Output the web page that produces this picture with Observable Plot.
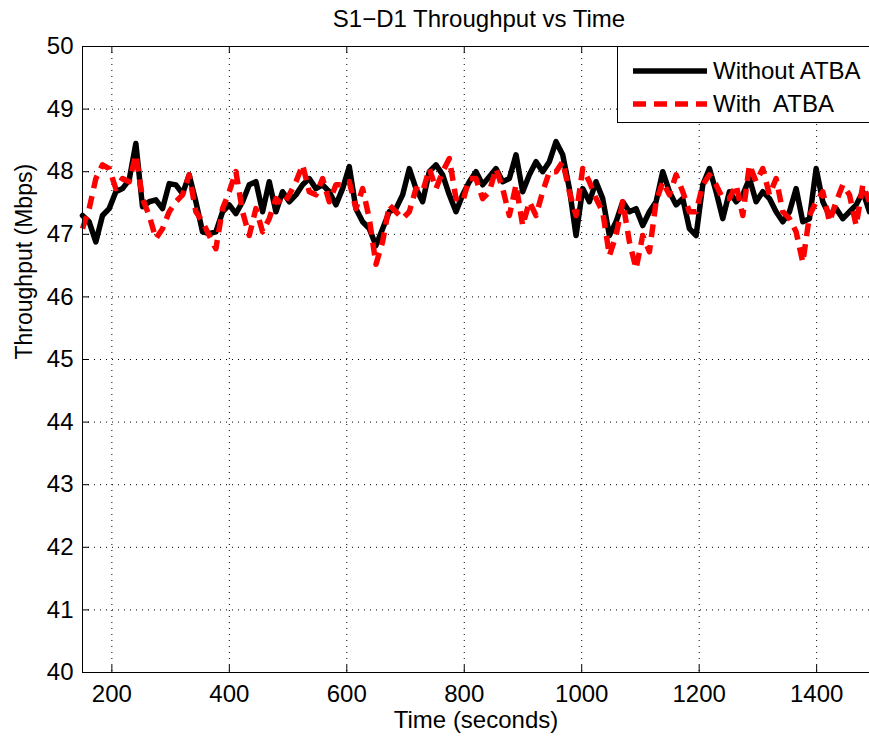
<!DOCTYPE html>
<html>
<head>
<meta charset="utf-8">
<script src="https://cdn.jsdelivr.net/npm/d3@7"></script>
<script src="https://cdn.jsdelivr.net/npm/@observablehq/plot@0.6"></script>
<style>
  body { margin: 0; background: #fff; }
  #wrap { position: relative; width: 869px; height: 740px; overflow: hidden; font-family: "Liberation Sans", Arial, Helvetica, sans-serif; }
  #legend { position: absolute; left: 617px; top: 46px; width: 270px; height: 77px; border: 1px solid #000; background: #fff; box-sizing: border-box; }
  .row { position: absolute; left: 15px; height: 30px; display: flex; align-items: center; font-size: 24px; white-space: pre; }
  .row svg { margin-right: 6px; }
</style>
</head>
<body>
<div id="wrap"></div>
<script>
// Sampling of the time axis (seconds)
const tStart = 150;
const tEnd = 1490;

// Without ATBA (Mbps)
const withoutATBA = [
  47.30,47.20,46.88,47.30,47.41,47.68,47.73,47.87,48.45,47.44,47.52,47.55,47.41,47.81,47.79,47.65,47.95,47.52,47.04,47.01,
  47.04,47.36,47.47,47.33,47.52,47.79,47.84,47.36,47.84,47.36,47.68,47.52,47.63,47.79,47.89,47.73,47.79,47.68,47.47,
  47.73,48.08,47.41,47.20,47.09,46.82,47.09,47.36,47.41,47.63,48.05,47.73,47.52,48.00,48.11,47.95,47.63,47.36,47.63,47.84,
  48.00,47.79,47.92,48.05,47.84,47.89,48.27,47.68,47.95,48.16,48.00,48.16,48.48,48.27,47.73,46.98,47.73,47.52,47.84,
  47.57,46.98,47.20,47.52,47.36,47.41,47.14,47.36,47.52,48.00,47.68,47.47,47.57,47.09,46.98,47.79,48.05,47.68,47.25,47.68,
  47.52,47.63,47.89,47.52,47.68,47.57,47.36,47.20,47.36,47.73,47.20,47.25,48.05,47.52,47.30,47.41,47.25,47.36,47.47,47.68,47.36
];

// With ATBA (Mbps)
const withATBA = [
  47.09,47.41,47.89,48.11,48.05,47.73,47.89,47.84,48.27,47.57,47.30,46.93,47.09,47.36,47.52,47.63,47.95,47.36,47.20,46.98,
  46.77,47.41,47.68,48.00,47.36,46.98,47.41,47.04,47.25,47.57,47.47,47.63,47.84,48.11,47.68,47.63,47.89,47.52,47.79,
  47.79,47.84,47.41,47.73,47.25,46.52,46.88,47.47,47.36,47.25,47.36,47.73,47.68,48.05,47.73,48.00,48.21,47.57,47.52,47.89,
  47.89,47.57,47.68,48.05,47.73,47.30,47.79,47.14,47.52,47.30,47.68,48.00,48.00,48.16,47.68,47.30,48.05,47.84,47.57,
  47.36,46.66,46.98,47.52,46.88,46.45,46.98,46.72,47.52,47.84,47.63,47.95,47.68,47.36,47.36,47.79,47.95,47.79,47.57,47.57,
  47.79,47.30,48.11,47.84,48.05,47.63,47.89,47.36,47.25,47.04,46.55,47.30,47.52,47.68,47.20,47.52,47.79,47.63,47.14,47.79,47.52
];

const xTicks = [200, 400, 600, 800, 1000, 1200, 1400];
const yTicks = [40, 41, 42, 43, 44, 45, 46, 47, 48, 49, 50];

const titleText = "S1\u2212D1 Throughput vs Time";
const xLabel = "Time (seconds)";
const yLabel = "Throughput (Mbps)";
const seriesNames = ["Without ATBA", "With  ATBA"];

const n = withoutATBA.length;
const step = (tEnd - tStart) / (n - 1);
const toRows = (vals) => vals.map((v, i) => ({t: tStart + i * step, v}));
const blackRows = toRows(withoutATBA);
const redRows = toRows(withATBA);

const font = '"Liberation Sans", Arial, Helvetica, sans-serif';
const lineW = 5.5;
const dash = "13,8";

const chart = Plot.plot({
  width: 869,
  height: 740,
  marginLeft: 82,
  marginRight: 0,
  marginTop: 46,
  marginBottom: 68,
  style: {fontFamily: font, fontSize: "24px", color: "black", background: "white", overflow: "visible"},
  x: {domain: [tStart, tEnd], ticks: xTicks, tickSize: 0, tickPadding: 12, tickFormat: d => String(d), label: null},
  y: {domain: [40, 50], ticks: yTicks, tickSize: 0, tickPadding: 9, tickFormat: d => String(d), label: null},
  marks: [
    Plot.ruleX(xTicks, {stroke: "black", strokeWidth: 1, strokeDasharray: "1,5"}),
    Plot.ruleY(yTicks.slice(1, -1), {stroke: "black", strokeWidth: 1, strokeDasharray: "1,5"}),
    Plot.ruleX(xTicks, {y1: 40, y2: 40 + 7 / 62.6, stroke: "black"}),
    Plot.ruleX(xTicks, {y1: 50 - 7 / 62.6, y2: 50, stroke: "black"}),
    Plot.ruleY(yTicks, {x1: tStart, x2: tStart + 7 / 0.5875, stroke: "black"}),
    Plot.line(blackRows, {x: "t", y: "v", stroke: "black", strokeWidth: lineW, curve: "linear"}),
    Plot.line(redRows, {x: "t", y: "v", stroke: "#ff0000", strokeWidth: lineW, strokeDasharray: dash, strokeLinecap: "butt", curve: "linear"}),
    Plot.frame({stroke: "black", strokeWidth: 1}),
    Plot.text([titleText], {text: d => d, frameAnchor: "top", lineAnchor: "middle", dy: -27, dx: 3, fontSize: 24}),
    Plot.text([xLabel], {text: d => d, frameAnchor: "bottom", lineAnchor: "middle", dy: 48, fontSize: 24}),
    Plot.text([yLabel], {text: d => d, frameAnchor: "left", lineAnchor: "middle", dx: -58, rotate: -90, fontSize: 23})
  ]
});

const wrap = document.getElementById("wrap");
wrap.appendChild(chart);

const legend = document.createElement("div");
legend.id = "legend";
const rowsDef = [
  {name: seriesNames[0], color: "black", dash: null, top: 9},
  {name: seriesNames[1], color: "#ff0000", dash: dash, top: 42}
];
for (const r of rowsDef) {
  const row = document.createElement("div");
  row.className = "row";
  row.style.top = r.top + "px";
  row.innerHTML = `<svg width="74" height="10"><line x1="0" y1="5" x2="74" y2="5" stroke="${r.color}" stroke-width="${lineW}"${r.dash ? ` stroke-dasharray="${r.dash}"` : ""}/></svg><span>${r.name}</span>`;
  legend.appendChild(row);
}
wrap.appendChild(legend);
</script>
</body>
</html>
